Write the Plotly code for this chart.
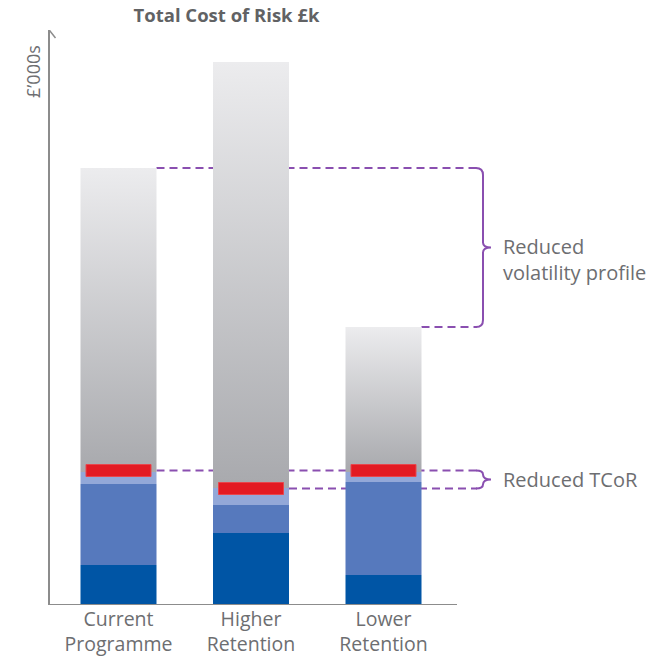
import plotly.graph_objects as go

# ---------------- data (£'000s, arbitrary units) ----------------
categories = ["Current<br>Programme", "Higher<br>Retention", "Lower<br>Retention"]
layer_dark = [40, 72, 30]        # dark blue segment
layer_mid = [81, 28, 93]         # medium blue segment
layer_light = [12, 17, 10]       # light blue segment
volatility = [304, 426, 145]     # grey (volatility) segment
tcor = [134.5, 116.5, 134.5]     # red marker: Total Cost of Risk

title_text = "Total Cost of Risk £k"
y_label = "£’000s"
note_vol = "Reduced<br>volatility profile"
note_tcor = "Reduced TCoR"

# ---------------- styling ----------------
W, H = 652, 657
ML, MR, MT, MB = 50, 0, 30, 52
S = 132.5                      # px per category
XMIN = -(118.5 - ML) / S
XMAX = XMIN + (W - ML - MR) / S
YMAX = H - MT - MB             # 1 unit = 1 px
BAR_W = 76 / S
RED_W = 65 / S
RED_T = 12

C_DARK = "#0055a5"
C_MID = "#5679bd"
C_LIGHT = "#93a8d8"
C_RED = "#e31b23"
C_PURPLE = "#8a4fb0"
C_TEXT = "#6d6e71"
C_AXIS = "#8c8c8c"
FONT = "Open Sans"


def X(px):
    return XMIN + (px - ML) / S


xs = list(range(len(categories)))
base_mid = [d for d in layer_dark]
base_light = [d + m for d, m in zip(layer_dark, layer_mid)]
base_vol = [d + m + l for d, m, l in zip(layer_dark, layer_mid, layer_light)]
totals = [b + v for b, v in zip(base_vol, volatility)]

fig = go.Figure()
fig.add_trace(go.Bar(x=xs, y=layer_dark, base=[0] * 3, width=BAR_W,
                     marker=dict(color=C_DARK, line=dict(width=0)), showlegend=False))
fig.add_trace(go.Bar(x=xs, y=layer_mid, base=base_mid, width=BAR_W,
                     marker=dict(color=C_MID, line=dict(width=0)), showlegend=False))
fig.add_trace(go.Bar(x=xs, y=layer_light, base=base_light, width=BAR_W,
                     marker=dict(color=C_LIGHT, line=dict(width=0)), showlegend=False))

# grey gradient segments
for i in xs:
    x0, x1 = i - BAR_W / 2, i + BAR_W / 2
    y0, y1 = base_vol[i], totals[i]
    fig.add_trace(go.Scatter(
        x=[x0, x1, x1, x0, x0], y=[y0, y0, y1, y1, y0],
        mode="lines", line=dict(width=0), fill="toself",
        fillgradient=dict(type="vertical",
                          colorscale=[[0, "#a8a9ad"], [1, "#ececee"]]),
        hoverinfo="skip", showlegend=False))

# red TCoR markers
for i in xs:
    x0, x1 = i - RED_W / 2, i + RED_W / 2
    y0, y1 = tcor[i] - RED_T / 2, tcor[i] + RED_T / 2
    fig.add_trace(go.Scatter(
        x=[x0, x1, x1, x0, x0], y=[y0, y0, y1, y1, y0],
        mode="lines", line=dict(width=1, color="#e8464c"), fill="toself",
        fillcolor=C_RED, hoverinfo="skip", showlegend=False))

shapes = []
dash_end = X(477)
dash = dict(color=C_PURPLE, width=2, dash="8px,5px")
# dashed guide lines (behind the bars)
shapes.append(dict(type="line", xref="x", yref="y", layer="below",
                   x0=0 + BAR_W / 2, x1=dash_end, y0=totals[0], y1=totals[0], line=dash))
shapes.append(dict(type="line", xref="x", yref="y", layer="below",
                   x0=2 + BAR_W / 2, x1=dash_end, y0=totals[2], y1=totals[2], line=dash))
shapes.append(dict(type="line", xref="x", yref="y", layer="below",
                   x0=0 + BAR_W / 2, x1=dash_end, y0=tcor[0], y1=tcor[0], line=dash))
shapes.append(dict(type="line", xref="x", yref="y", layer="below",
                   x0=1 + BAR_W / 2, x1=dash_end, y0=tcor[1], y1=tcor[1], line=dash))


def brace(top, bottom, r, xv=483, xt=491):
    mid = (top + bottom) / 2
    return (f"M {X(476)},{top} Q {X(xv)},{top} {X(xv)},{top - r} "
            f"L {X(xv)},{mid + 5} Q {X(xv)},{mid} {X(xt)},{mid} "
            f"Q {X(xv)},{mid} {X(xv)},{mid - 5} "
            f"L {X(xv)},{bottom + r} Q {X(xv)},{bottom} {X(476)},{bottom}")


shapes.append(dict(type="path", xref="x", yref="y", path=brace(totals[0], totals[2], 7),
                   line=dict(color=C_PURPLE, width=2)))
shapes.append(dict(type="path", xref="x", yref="y", path=brace(tcor[0], tcor[1], 4),
                   line=dict(color=C_PURPLE, width=2)))

# x axis line and y axis arrow head
shapes.append(dict(type="line", xref="x", yref="y", x0=XMIN, x1=X(457), y0=0, y1=0,
                   line=dict(color=C_AXIS, width=2)))
shapes.append(dict(type="path", xref="x", yref="y",
                   path=f"M {X(44.5)},{YMAX - 8} L {X(50)},{YMAX - 1} L {X(55.5)},{YMAX - 8}",
                   line=dict(color=C_AXIS, width=1.5)))

annotations = [
    dict(xref="x", yref="y", x=X(501), y=(totals[0] + totals[2]) / 2, yshift=-12,
         xanchor="left", yanchor="middle", align="left", showarrow=False, text=note_vol,
         font=dict(family=FONT, size=20, color=C_TEXT)),
    dict(xref="x", yref="y", x=X(501), y=(tcor[0] + tcor[1]) / 2,
         xanchor="left", yanchor="middle", align="left", showarrow=False, text=note_tcor,
         font=dict(family=FONT, size=20, color=C_TEXT)),
    dict(xref="paper", yref="paper", x=(33 - ML) / (W - ML - MR), y=(H - MB - 72) / YMAX,
         xanchor="center", yanchor="middle", textangle=-90, showarrow=False, text=y_label,
         font=dict(family=FONT, size=18, color=C_TEXT)),
]

fig.update_layout(
    width=W, height=H,
    margin=dict(l=ML, r=MR, t=MT, b=MB, pad=0, autoexpand=False),
    paper_bgcolor="white", plot_bgcolor="white",
    barmode="overlay",
    title=dict(text=f"<b>{title_text}</b>", x=226.5 / W, xanchor="center",
               y=1 - 16 / H, yanchor="middle",
               font=dict(family=FONT, size=18.5, color="#616264")),
    xaxis=dict(range=[XMIN, XMAX], tickvals=xs, ticktext=categories,
               showgrid=False, zeroline=False, showline=False, ticks="",
               automargin=False,
               tickfont=dict(family=FONT, size=19.5, color=C_TEXT)),
    yaxis=dict(range=[0, YMAX], showgrid=False, zeroline=False, showline=True,
               automargin=False,
               linecolor=C_AXIS, linewidth=1.5, showticklabels=False, ticks=""),
    shapes=shapes, annotations=annotations,
    showlegend=False,
)

fig.write_html("out.html")
